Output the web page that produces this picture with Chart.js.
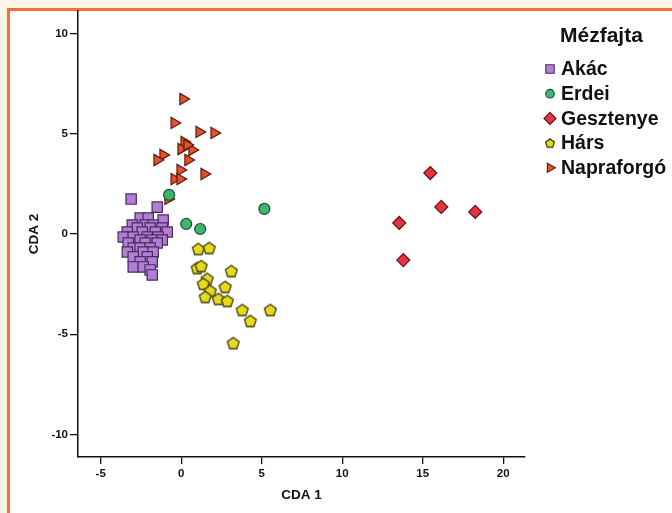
<!DOCTYPE html>
<html>
<head>
<meta charset="utf-8">
<script src="https://cdn.jsdelivr.net/npm/chart.js@4/dist/chart.umd.min.js"></script>
<style>
  html, body { margin: 0; padding: 0; background: #ffffff; }
  #wrap { position: relative; width: 672px; height: 513px; overflow: hidden; background: #fdf6e6; }
  #frame { position: absolute; left: 7px; top: 8px; width: 700px; height: 600px; background: #ffffff; border-left: 3px solid #f07238; border-top: 3px solid #f07238; }
  #c { position: absolute; left: 0; top: 0; }
</style>
</head>
<body>
<div id="wrap">
  <div id="frame"></div>
  <canvas id="c" width="672" height="513"></canvas>
</div>
<script>
// ---- data ----
const seriesNames = ["Akác", "Erdei", "Gesztenye", "Hárs", "Napraforgó"];
const legendTitle = "Mézfajta";
const xAxisTitle = "CDA 1";
const yAxisTitle = "CDA 2";
const xTicks = [-5, 0, 5, 10, 15, 20];
const yTicks = [-10, -5, 0, 5, 10];

const akacX = [-3.11, -1.49, -2.55, -2.05, -1.12, -3.04, -2.24, -1.74, -2.73, -1.93, -1.18, -3.35, -2.42, -1.61, -0.87, -3.60, -2.98, -2.11, -1.43, -2.55, -1.80, -1.18, -3.29, -2.24, -1.49, -2.98, -2.55, -1.93, -3.35, -2.36, -1.74, -2.98, -2.11, -2.55, -1.80, -2.98, -2.36, -1.93, -1.80];
const akacY = [1.74, 1.34, 0.80, 0.80, 0.70, 0.45, 0.45, 0.45, 0.30, 0.30, 0.30, 0.10, 0.10, 0.10, 0.10, -0.15, -0.15, -0.15, -0.15, -0.30, -0.30, -0.30, -0.45, -0.45, -0.45, -0.70, -0.70, -0.70, -0.90, -0.90, -0.90, -1.14, -1.14, -1.39, -1.39, -1.64, -1.64, -1.79, -2.04];

const erdeiX = [-0.75, 0.31, 1.18, 5.16];
const erdeiY = [1.95, 0.50, 0.25, 1.25];

const gesztenyeX = [15.47, 16.15, 18.26, 13.54, 13.79];
const gesztenyeY = [3.04, 1.35, 1.10, 0.55, -1.30];

const harsX = [1.06, 1.74, 0.99, 1.24, 3.11, 1.61, 1.37, 2.73, 1.80, 1.49, 2.30, 2.86, 3.79, 5.53, 4.29, 3.23];
const harsY = [-0.75, -0.70, -1.70, -1.60, -1.85, -2.24, -2.49, -2.64, -2.84, -3.14, -3.24, -3.34, -3.79, -3.79, -4.34, -5.44];

const napraX = [0.12, -0.43, 1.12, 2.05, 0.19, 0.00, 0.68, 0.37, -1.12, -1.49, 0.43, -0.06, 1.43, -0.43, -0.06, -0.81];
const napraY = [6.73, 5.54, 5.09, 5.04, 4.59, 4.24, 4.19, 4.44, 3.94, 3.69, 3.69, 3.19, 2.99, 2.74, 2.74, 1.75];

// ---- styling ----
const FONT = "'Liberation Sans', Arial, sans-serif";
const colors = {
  akac:  { fill: '#b07ed2', border: '#4a2a62' },
  erdei: { fill: '#3fb46c', border: '#1d4f30' },
  geszt: { fill: '#e8323f', border: '#5a1414' },
  hars:  { fill: '#e6da1e', border: '#3c3a10' },
  napra: { fill: '#e2522c', border: '#5a1a0c' }
};

function pentagon(size, r, fill, stroke) {
  const cv = document.createElement('canvas');
  cv.width = size; cv.height = size;
  const g = cv.getContext('2d');
  const cx = size / 2, cy = size / 2 + 0.5;
  g.beginPath();
  for (let i = 0; i < 5; i++) {
    const a = -Math.PI / 2 + i * 2 * Math.PI / 5;
    const px = cx + r * Math.cos(a), py = cy + r * Math.sin(a);
    if (i === 0) g.moveTo(px, py); else g.lineTo(px, py);
  }
  g.closePath();
  g.fillStyle = fill; g.fill();
  g.lineWidth = 1.3; g.strokeStyle = stroke; g.stroke();
  return cv;
}
const pentBig = pentagon(15, 6.2, colors.hars.fill, colors.hars.border);
const pentSmall = pentagon(12, 4.6, colors.hars.fill, colors.hars.border);

function pts(xs, ys) { return xs.map((x, i) => ({ x: x, y: ys[i] })); }

const datasets = [
  { label: seriesNames[0], data: pts(akacX, akacY), pointStyle: 'rect', pointRadius: 7.3, backgroundColor: colors.akac.fill, borderColor: colors.akac.border, borderWidth: 1.2, _legendRadius: 6 },
  { label: seriesNames[1], data: pts(erdeiX, erdeiY), pointStyle: 'circle', pointRadius: 5.5, backgroundColor: colors.erdei.fill, borderColor: colors.erdei.border, borderWidth: 1.2, _legendRadius: 4.3 },
  { label: seriesNames[2], data: pts(gesztenyeX, gesztenyeY), pointStyle: 'rectRot', pointRadius: 6.5, backgroundColor: colors.geszt.fill, borderColor: colors.geszt.border, borderWidth: 1.2, _legendRadius: 6 },
  { label: seriesNames[3], data: pts(harsX, harsY), pointStyle: pentBig, pointRadius: 6, backgroundColor: colors.hars.fill, borderColor: colors.hars.border, borderWidth: 1.2, _legendStyle: pentSmall, _legendRadius: 4.5 },
  { label: seriesNames[4], data: pts(napraX, napraY), pointStyle: 'triangle', rotation: 90, pointRadius: 6.5, backgroundColor: colors.napra.fill, borderColor: colors.napra.border, borderWidth: 1.2, _legendRadius: 5.3 }
];

const legendPlugin = {
  id: 'customLegend',
  afterDraw(chart) {
    const ctx = chart.ctx;
    ctx.save();
    ctx.fillStyle = '#111';
    ctx.textBaseline = 'middle';
    ctx.textAlign = 'left';
    ctx.font = "bold 21px " + FONT;
    ctx.fillText(legendTitle, 560, 36);
    ctx.font = "bold 19.5px " + FONT;
    chart.data.datasets.forEach((ds, i) => {
      const y = 69 + i * 24.7;
      const opts = {
        pointStyle: ds._legendStyle || ds.pointStyle,
        rotation: ds.rotation || 0,
        radius: ds._legendRadius,
        borderWidth: 1.1
      };
      ctx.fillStyle = ds.backgroundColor;
      ctx.strokeStyle = ds.borderColor;
      ctx.lineWidth = 1.1;
      Chart.helpers.drawPoint(ctx, opts, 550, y);
      ctx.fillStyle = '#111';
      ctx.fillText(ds.label, 561, y + 1);
    });
    ctx.restore();
  }
};

new Chart(document.getElementById('c'), {
  type: 'scatter',
  data: { datasets: datasets },
  plugins: [legendPlugin],
  options: {
    responsive: false,
    animation: false,
    events: [],
    layout: { padding: { left: 0, top: 11, right: 147, bottom: 0 } },
    plugins: { legend: { display: false }, tooltip: { enabled: false } },
    scales: {
      x: {
        type: 'linear', min: -6.41, max: 21.35,
        afterFit(s) { s.height = 56; },
        afterBuildTicks(s) { s.ticks = xTicks.map(v => ({ value: v })); },
        border: { display: true, color: '#111', width: 1.5 },
        grid: { display: true, drawOnChartArea: false, drawTicks: true, tickLength: 7, color: '#111', lineWidth: 1.3 },
        ticks: { color: '#111', padding: 3, font: { family: FONT, size: 11.5, weight: 'bold' } },
        title: { display: true, text: xAxisTitle, color: '#111', padding: { top: 0, bottom: 10 }, font: { family: FONT, size: 13.5, weight: 'bold' } }
      },
      y: {
        type: 'linear', min: -11.12, max: 11.12,
        afterFit(s) { s.width = 78; },
        afterBuildTicks(s) { s.ticks = yTicks.map(v => ({ value: v })); },
        border: { display: true, color: '#111', width: 1.5 },
        grid: { display: true, drawOnChartArea: false, drawTicks: true, tickLength: 8, color: '#111', lineWidth: 1.3 },
        ticks: { color: '#111', padding: 2, font: { family: FONT, size: 11.5, weight: 'bold' } },
        title: { display: true, text: yAxisTitle, color: '#111', padding: { top: 26, bottom: 0 }, font: { family: FONT, size: 13.5, weight: 'bold' } }
      }
    }
  }
});
</script>
</body>
</html>
